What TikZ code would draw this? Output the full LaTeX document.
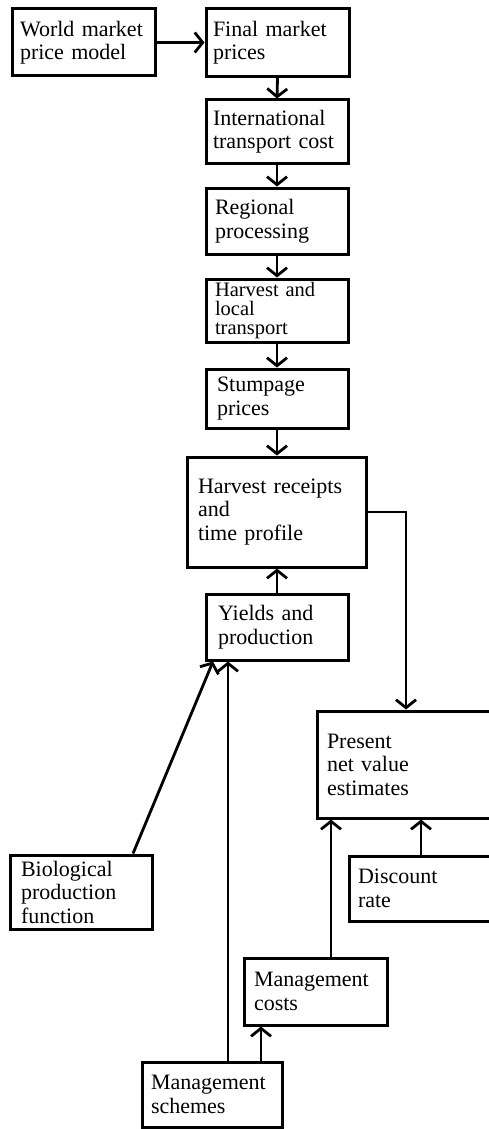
\documentclass[tikz,border=0pt]{standalone}
\usepackage{fontspec}
\setmainfont{Liberation Serif}
\usetikzlibrary{arrows.meta}
\tikzset{
  bx/.style n args={3}{draw, line width=3pt, rectangle, inner xsep=#3pt, inner ysep=0pt,
    text width=#1pt, minimum height=#2pt, align=left, font=\fontsize{22}{23.5}\selectfont},
  arr/.style={line width=2.8pt, -{Straight Barb[length=8pt,width=20pt]}}
}
\begin{document}
\begin{tikzpicture}[x=1pt,y=-1pt]
\useasboundingbox (0,0) rectangle (489,1129);
\clip (0,0) rectangle (489,1129);
\node[bx={127}{67}{8}] (wm) at (83.5,42.5) {World market\\price model};
\node[bx={129}{68}{7}] (fmp) at (277.5,42.5) {Final market\\prices};
\node[bx={128}{63}{7}] (itc) at (277,131.5) {International\\transport cost};
\node[bx={124}{63}{9}, font=\fontsize{20.5}{19}\selectfont] (hlt) at (277,310.5) {Harvest and\\local\\transport};
\node[bx={124}{66}{9}] (rp) at (277,221) {Regional\\processing};
\node[bx={120}{59}{11}] (sp) at (277,398.5) {Stumpage\\prices};
\node[bx={157}{110}{11}] (hr) at (276.5,512) {Harvest receipts\\and\\time profile};
\node[bx={118}{66}{12}] (yp) at (277,627) {Yields and\\production};
\node[bx={183}{107}{10}] (pnv) at (418.5,764.5) {Present\\net value\\estimates};
\node[bx={153}{65}{9}] (dr) at (434.5,888.5) {Discount\\rate};
\node[bx={123}{67}{10}] (mc) at (315.5,991.5) {Management\\costs};
\node[bx={120}{74}{11}] (bpf) at (81,892) {Biological\\production\\function};
\node[bx={122}{65}{9}] (ms) at (212,1094.5) {Management\\schemes};

\draw[arr] (wm) -- (fmp);
\draw[arr] (fmp.south) -- (itc.north);
\draw[arr] (itc.south) -- (rp.north);
\draw[arr] (rp.south) -- (hlt.north);
\draw[arr] (hlt.south) -- (sp.north);
\draw[arr] (sp.south) -- (sp.south |- hr.north);
\draw[arr] (yp.north) -- (yp.north |- hr.south);
\draw[arr] (hr.east) -| ([xshift=-12.5pt]pnv.north);
\draw[arr] ([xshift=-13.5pt]dr.north) -- ([xshift=-13.5pt]dr.north |- pnv.south);
\draw[arr] ([xshift=15.5pt]mc.north) -- ([xshift=15.5pt]mc.north |- pnv.south);
\draw[arr] ([xshift=49pt]ms.north) -- ([xshift=49pt]ms.north |- mc.south);
\draw[arr] ([xshift=16pt]ms.north) -- ([xshift=16pt]ms.north |- yp.south);
\draw[arr] ([xshift=52pt]bpf.north) -- ([xshift=-64pt]yp.south);
\end{tikzpicture}
\end{document}
